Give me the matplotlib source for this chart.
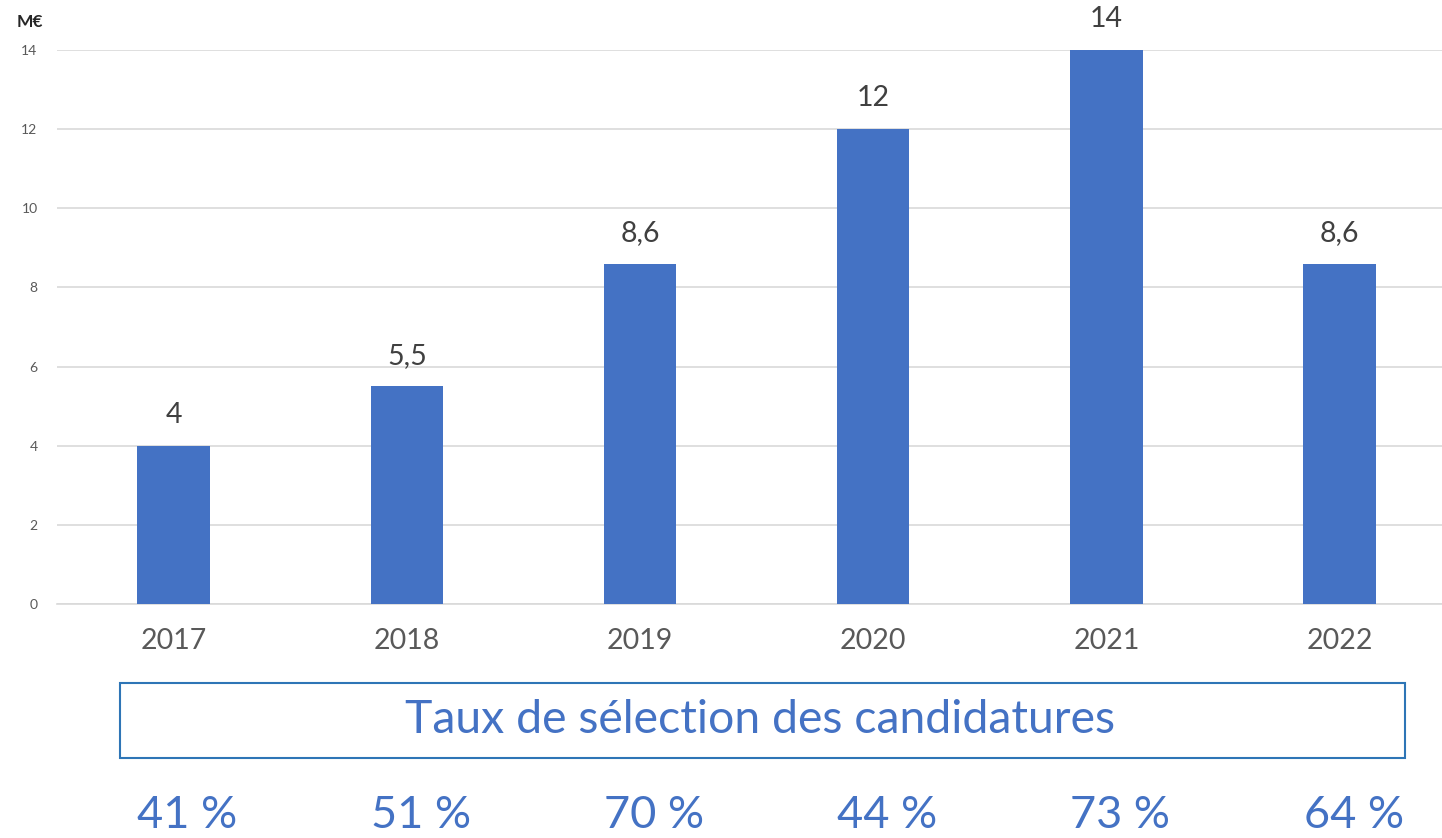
import matplotlib.pyplot as plt
from matplotlib.patches import Rectangle
from matplotlib.transforms import blended_transform_factory

# Data
years = ['2017', '2018', '2019', '2020', '2021', '2022']
amounts = [4, 5.5, 8.6, 12, 14, 8.6]
amount_labels = ['4', '5,5', '8,6', '12', '14', '8,6']
selection_rates = ['41 %', '51 %', '70 %', '44 %', '73 %', '64 %']
yticks = [0, 2, 4, 6, 8, 10, 12, 14]

blue = '#4472C4'
plt.rcParams['font.family'] = ['Lato', 'DejaVu Sans']

fig = plt.figure(figsize=(14.42, 8.38), dpi=100)
W, H = 1442, 838
ax = fig.add_axes([57 / W, (H - 604) / H, (W - 57) / W, 554 / H])

x = list(range(len(years)))
ax.bar(x, amounts, width=0.31, color=blue, zorder=3)

ax.set_ylim(0, 14)
ax.set_xlim(-0.5, -0.5 + (W - 57) / 233.2)
ax.set_yticks(yticks)
ax.set_yticklabels([str(t) for t in yticks], fontsize=10, color='#595959')
ax.set_xticks(x)
ax.set_xticklabels(years, fontsize=20.5, color='#595959')
ax.tick_params(axis='both', length=0)
ax.tick_params(axis='y', pad=14)
ax.tick_params(axis='x', pad=17)
ax.grid(axis='y', color='#D9D9D9', linewidth=1.2, zorder=0)
for s in ['top', 'right', 'left']:
    ax.spines[s].set_visible(False)
ax.spines['bottom'].set_color('#D9D9D9')
ax.spines['bottom'].set_linewidth(1.2)

# value labels above the bars
for xi, v, lab in zip(x, amounts, amount_labels):
    ax.text(xi, v + 0.45, lab, ha='center', va='bottom', fontsize=20.5, color='#404040')

fig.text(17 / W, 1 - 22 / H, 'M€', fontsize=12.5, fontweight='bold', color='#262626',
         ha='left', va='center')

# box with title
box = Rectangle((120 / W, 1 - 758 / H), (1405 - 120) / W, (758 - 683) / H,
                transform=fig.transFigure, fill=False, edgecolor='#2E75B6', linewidth=1.5)
fig.add_artist(box)
fig.text(760 / W, 1 - 720 / H, 'Taux de sélection des candidatures', fontsize=33.4,
         color=blue, ha='center', va='center')

# selection rates under each year
trans = blended_transform_factory(ax.transData, fig.transFigure)
for xi, r in zip(x, selection_rates):
    ax.text(xi + 0.06, 1 - 815 / H, r, transform=trans, fontsize=32.5,
            color=blue, ha='center', va='center', clip_on=False)

fig.savefig('out.png', dpi=100)
